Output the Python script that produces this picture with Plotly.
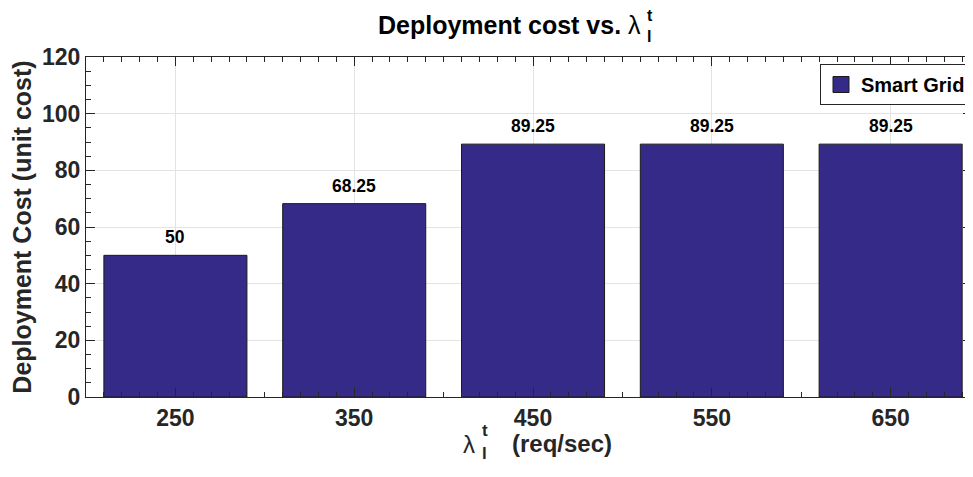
import plotly.graph_objects as go

categories = [250, 350, 450, 550, 650]
values = [50, 68.25, 89.25, 89.25, 89.25]
labels = ["50", "68.25", "89.25", "89.25", "89.25"]
series_name = "Smart Grid"

# page is offset by the browser's default 8px body margin
OFF = 8
W, H = 973 - OFF, 477 - OFF
ML, MT = 86 - OFF, 57 - OFF
PW, PH = 886, 340
MR = W - ML - PW
MB = H - MT - PH

def px(x):
    return (x - OFF - ML) / PW

def py(y):
    return (MT + PH - (y - OFF)) / PH

FONT = "Liberation Sans, Arial, sans-serif"
AX = "#262626"
BAR = "#352a87"

fig = go.Figure()
fig.add_trace(go.Bar(
    x=categories, y=values, width=80, name=series_name,
    marker=dict(color=BAR, line=dict(color="#1a1a1a", width=1)),
    showlegend=False,
))
fig.add_trace(go.Scatter(
    x=[None], y=[None], mode="markers", name=series_name,
    marker=dict(symbol="square", size=16, color=BAR, line=dict(color="#1a1a1a", width=1)),
    showlegend=True,
))

fig.update_layout(
    width=W, height=H,
    margin=dict(l=ML, r=MR, t=MT, b=MB, autoexpand=False),
    paper_bgcolor="white", plot_bgcolor="white",
    font=dict(family=FONT, color=AX),
    showlegend=True,
    legend=dict(
        x=px(971), xanchor="right", y=py(64), yanchor="top",
        bordercolor=AX, borderwidth=1, bgcolor="white",
        font=dict(family=FONT, size=20, color="black", weight="bold"),
        itemsizing="trace", tracegroupgap=0,
    ),
)

fig.update_xaxes(
    range=[200, 695.5],
    tickmode="linear", tick0=250, dtick=100,
    tickfont=dict(family=FONT, size=23, color=AX, weight="bold"),
    ticks="inside", ticklen=9, tickcolor=AX, tickwidth=1,
    showline=True, linecolor=AX, linewidth=1, mirror="ticks",
    showgrid=True, gridcolor="#e3e3e3", gridwidth=1,
    minor=dict(tickmode="linear", dtick=10, tick0=250, ticks="inside", ticklen=5,
               tickcolor=AX, tickwidth=1, showgrid=False),
    zeroline=False, automargin=False,
)
fig.update_yaxes(
    range=[0, 120], tickmode="linear", dtick=20, tick0=0,
    tickfont=dict(family=FONT, size=23, color=AX, weight="bold"),
    ticks="inside", ticklen=9, tickcolor=AX, tickwidth=1,
    showline=True, linecolor=AX, linewidth=1, mirror="ticks",
    showgrid=True, gridcolor="#e3e3e3", gridwidth=1,
    minor=dict(tickmode="linear", dtick=5, tick0=0, ticks="inside", ticklen=5,
               tickcolor=AX, tickwidth=1, showgrid=False),
    zeroline=False, automargin=False,
    title=dict(text="Deployment Cost (unit cost)", standoff=6,
               font=dict(family=FONT, size=25, color=AX, weight="bold")),
)

ann = []
# value labels above bars, placed through the data axes
for c, v, t in zip(categories, values, labels):
    ann.append(dict(xref="x", yref="y", x=c, y=v, xanchor="center", yanchor="bottom",
                    yshift=6, text=f"<b>{t}</b>", showarrow=False,
                    font=dict(family=FONT, size=17.5, color="black")))
ann.append(dict(xref="paper", yref="paper", x=px(643), y=py(25), xanchor="right", yanchor="middle",
                text="<b>Deployment cost vs.</b> λ", showarrow=False,
                font=dict(family=FONT, size=25, color="black")))
ann.append(dict(xref="paper", yref="paper", x=px(645), y=py(16), xanchor="left", yanchor="middle",
                text="<b>t</b>", showarrow=False, font=dict(family=FONT, size=16, color="black")))
ann.append(dict(xref="paper", yref="paper", x=px(645), y=py(36), xanchor="left", yanchor="middle",
                text="<b>l</b>", showarrow=False, font=dict(family=FONT, size=16, color="black")))
ann.append(dict(xref="paper", yref="paper", x=px(477), y=py(444), xanchor="right", yanchor="middle",
                text="λ", showarrow=False, font=dict(family=FONT, size=24, color=AX)))
ann.append(dict(xref="paper", yref="paper", x=px(480), y=py(430), xanchor="left", yanchor="middle",
                text="<b>t</b>", showarrow=False, font=dict(family=FONT, size=17, color=AX)))
ann.append(dict(xref="paper", yref="paper", x=px(480), y=py(453), xanchor="left", yanchor="middle",
                text="<b>l</b>", showarrow=False, font=dict(family=FONT, size=17, color=AX)))
ann.append(dict(xref="paper", yref="paper", x=px(510), y=py(443), xanchor="left", yanchor="middle",
                text="<b>(req/sec)</b>", showarrow=False, font=dict(family=FONT, size=24, color=AX)))
fig.update_layout(annotations=ann)

fig.write_html("out.html")
